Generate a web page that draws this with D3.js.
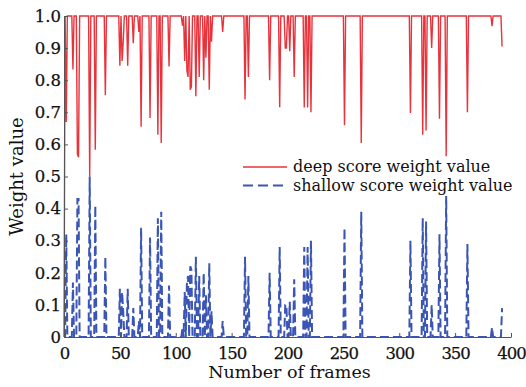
<!DOCTYPE html>
<html>
<head>
<meta charset="utf-8">
<script src="https://cdn.jsdelivr.net/npm/d3@7"></script>
<style>
  body { margin: 0; background: #fff; }
  text { font-family: "DejaVu Serif", serif; fill: #111; }
</style>
</head>
<body>
<svg id="chart"></svg>
<script>
// frames where the weights move away from the 1 / 0 baseline
var dipFrames    = [0, 2, 8, 12, 13, 23, 28, 37, 50, 52, 53, 57, 62, 67, 69, 77, 84, 87, 94,
                    106, 108, 110, 111, 113, 114, 118, 121, 125, 127, 130, 132, 142, 162, 165,
                    184, 193, 198, 199, 202, 206, 215, 218, 221, 251, 266, 310, 321, 324, 329,
                    336, 342, 361, 383, 392];
var deepValues   = [0, 0.67, 0.833, 0.57, 0.56, 0.50, 0.583, 0.753, 0.845, 0.86, 0.92, 0.845, 0.915, 0.95, 0.655, 0.682, 0.63, 0.604, 0.843,
                    0.97, 0.86, 0.83, 0.81, 0.77, 0.78, 0.75, 0.81, 0.80, 0.87, 0.77, 0.92, 0.95, 0.74, 0.81,
                    0.80, 0.716, 0.90, 0.90, 0.89, 0.81, 0.715, 0.715, 0.70, 0.66, 0.604, 0.698, 0.63, 0.643, 0.90,
                    0.68, 0.563, 0.70, 0.968, 0.905];
var shallowValues = [0, 0.32, 0.17, 0.43, 0.43, 0.50, 0.41, 0.25, 0.15, 0.14, 0.08, 0.15, 0.09, 0.05, 0.34, 0.31, 0.37, 0.39, 0.16,
                    0.03, 0.14, 0.17, 0.19, 0.22, 0.21, 0.25, 0.19, 0.20, 0.13, 0.23, 0.08, 0.05, 0.25, 0.19,
                    0.20, 0.28, 0.10, 0.10, 0.11, 0.18, 0.28, 0.28, 0.30, 0.34, 0.39, 0.30, 0.37, 0.36, 0.10,
                    0.32, 0.44, 0.29, 0.03, 0.09];
var deepBase = 1.0, shallowBase = 0.0, lastFrame = 392;
var xTicks = [0, 50, 100, 150, 200, 250, 300, 350, 400];
var yTicks = [0, 0.1, 0.2, 0.3, 0.4, 0.5, 0.6, 0.7, 0.8, 0.9, 1.0];
var legendLabels = ["deep score weight value", "shallow score weight value"];

var width = 526, height = 387;
var margin = { top: 16, right: 15, bottom: 50, left: 64 };

// full per-frame series: baseline everywhere except the read-off frames
var deep = [], shallow = [];
for (var f = 0; f <= lastFrame; f++) {
    var i = dipFrames.indexOf(f);
    deep.push({ f: f, v: i < 0 ? deepBase : deepValues[i] });
    shallow.push({ f: f, v: i < 0 ? shallowBase : shallowValues[i] });
}

var x = d3.scaleLinear().domain([0, 400]).range([margin.left, width - margin.right]);
var y = d3.scaleLinear().domain([0, 1]).range([height - margin.bottom, margin.top]);

var svg = d3.select("#chart")
    .attr("width", width)
    .attr("height", height);

svg.append("rect").attr("width", width).attr("height", height).attr("fill", "#fff");

var line = d3.line()
    .x(d => x(d.f))
    .y(d => y(d.v));

svg.append("path")
    .datum(shallow)
    .attr("fill", "none")
    .attr("stroke", "#3a55b3")
    .attr("stroke-width", 2)
    .attr("stroke-dasharray", "9,4")
    .attr("d", line);

svg.append("path")
    .datum(deep)
    .attr("fill", "none")
    .attr("stroke", "#e8333c")
    .attr("stroke-width", 1.4)
    .attr("d", line);

// axes
var xAxis = svg.append("g")
    .attr("transform", "translate(0," + y(0) + ")")
    .call(d3.axisBottom(x).tickValues(xTicks).tickSizeInner(-4).tickSizeOuter(0).tickPadding(10));
var yAxis = svg.append("g")
    .attr("transform", "translate(" + x(0) + ",0)")
    .call(d3.axisLeft(y).tickValues(yTicks).tickSizeInner(-4).tickSizeOuter(0).tickPadding(3)
        .tickFormat(d => d === 0 ? "0" : d3.format(".1f")(d)));

[xAxis, yAxis].forEach(a => {
    a.select(".domain").attr("stroke", "#555");
    a.selectAll(".tick line").attr("stroke", "#555");
    a.selectAll("text")
        .style("font-family", "DejaVu Serif")
        .style("font-size", "16.5px")
        .attr("fill", "#111")
        .attr("stroke", "#111")
        .attr("stroke-width", 0.25);
});
xAxis.selectAll("text").style("letter-spacing", "-1px");

svg.append("text")
    .attr("x", (x(0) + x(400)) / 2 + 2)
    .attr("y", 378)
    .attr("text-anchor", "middle")
    .style("font-size", "17.5px")
    .text("Number of frames");

svg.append("text")
    .attr("transform", "translate(23," + y(0.5) + ") rotate(-90)")
    .attr("text-anchor", "middle")
    .style("font-size", "18px")
    .text("Weight value");

// legend
var legend = svg.append("g");
legend.append("rect")
    .attr("x", 238).attr("y", 157)
    .attr("width", 282).attr("height", 39)
    .attr("fill", "#fff");

var legendStyles = [
    { color: "#e8333c", dash: null, w: 1.4 },
    { color: "#3a55b3", dash: "10,5", w: 2 }
];
legend.selectAll("g.item")
    .data(legendLabels)
    .join("g")
    .attr("class", "item")
    .attr("transform", (d, i) => "translate(243," + (167 + i * 18.5) + ")")
    .each(function (d, i) {
        var g = d3.select(this);
        g.append("line")
            .attr("x1", 0).attr("x2", 44)
            .attr("stroke", legendStyles[i].color)
            .attr("stroke-width", legendStyles[i].w)
            .attr("stroke-dasharray", legendStyles[i].dash);
        g.append("text")
            .attr("x", 50).attr("y", 5)
            .style("font-size", "16px")
            .text(d);
    });
</script>
</body>
</html>
